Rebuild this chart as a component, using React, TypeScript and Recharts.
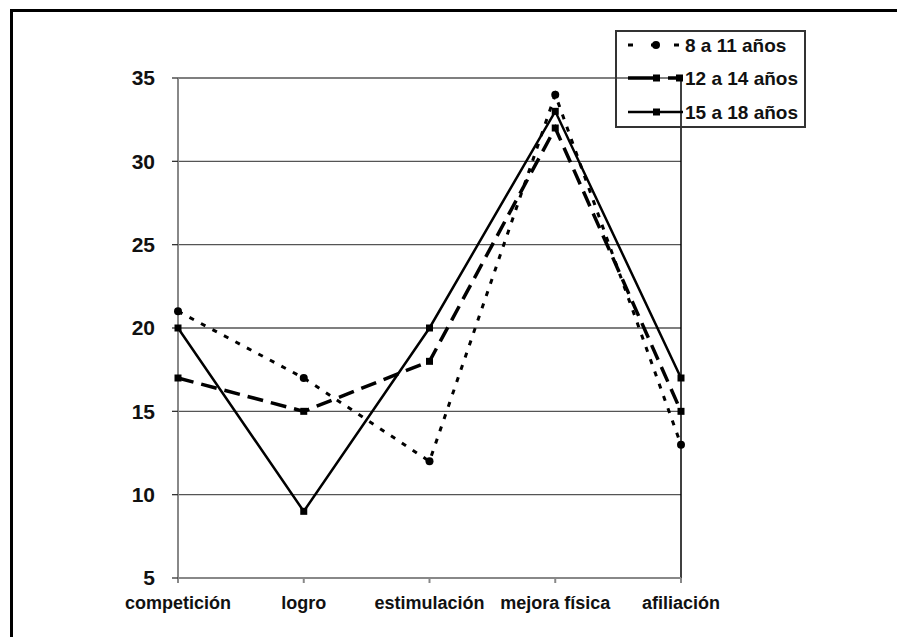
import React from 'react';
import { LineChart, Line, XAxis, YAxis, CartesianGrid, ReferenceLine } from 'recharts';

const categories = ['competición', 'logro', 'estimulación', 'mejora física', 'afiliación'];
const serie8a11 = [21, 17, 12, 34, 13];
const serie12a14 = [17, 15, 18, 32, 15];
const serie15a18 = [20, 9, 20, 33, 17];
const yTicks = [5, 10, 15, 20, 25, 30, 35];
const seriesNames = ['8 a 11 años', '12 a 14 años', '15 a 18 años'];

const data = categories.map((c, i) => ({
  cat: c,
  s1: serie8a11[i],
  s2: serie12a14[i],
  s3: serie15a18[i],
}));

const FONT = '"Liberation Sans", Arial, sans-serif';

const Square = (props: any) => {
  const { cx, cy, index } = props;
  if (cx == null || cy == null) return <g key={index} />;
  return <rect key={index} x={cx - 3.5} y={cy - 3.5} width={7} height={7} fill="#000" />;
};

const Circle = (props: any) => {
  const { cx, cy, index } = props;
  if (cx == null || cy == null) return <g key={index} />;
  return <circle key={index} cx={cx} cy={cy} r={4} fill="#000" />;
};

const LegendBox = () => {
  const rowY = [15, 48, 82];
  return (
    <svg width={191} height={98} style={{ display: 'block', position: 'absolute', left: 615, top: 30 }}>
      <rect x={1} y={1} width={189} height={96} fill="none" stroke="#333" strokeWidth={2} />
      <line x1={13} y1={rowY[0]} x2={68} y2={rowY[0]} stroke="#000" strokeWidth={3} strokeDasharray="5 18" />
      <circle cx={41} cy={rowY[0]} r={4} fill="#000" />
      <line x1={13} y1={rowY[1]} x2={68} y2={rowY[1]} stroke="#000" strokeWidth={3.5} strokeDasharray="32 8" />
      <rect x={38} y={rowY[1] - 3.5} width={7} height={7} fill="#000" />
      <rect x={61} y={rowY[1] - 3.5} width={7} height={7} fill="#000" />
      <line x1={13} y1={rowY[2]} x2={68} y2={rowY[2]} stroke="#000" strokeWidth={2.5} />
      <rect x={38} y={rowY[2] - 3.5} width={7} height={7} fill="#000" />
      {seriesNames.map((n, i) => (
        <text key={n} x={70} y={rowY[i]} dy="0.35em" fontFamily={FONT} fontWeight="bold" fontSize={19} fill="#111">
          {n}
        </text>
      ))}
    </svg>
  );
};

export default function App() {
  return (
    <div style={{ position: 'absolute', left: 0, top: 0, width: 897, height: 637, background: '#fff' }}>
      <div style={{ position: 'absolute', left: 10, top: 9, width: 887, height: 628, borderTop: '3px solid #000', borderLeft: '3px solid #000' }} />
      <div style={{ position: 'absolute', left: 0, top: 0 }}>
        <LineChart
          width={897}
          height={637}
          data={data}
          margin={{ top: 78, right: 216, left: 118, bottom: 29 }}
        >
          <CartesianGrid vertical={false} stroke="#555" strokeWidth={1.3} />
          <XAxis
            dataKey="cat"
            height={30}
            interval={0}
            axisLine={{ stroke: '#888', strokeWidth: 2 }}
            tickLine={{ stroke: '#888', strokeWidth: 2 }}
            tickSize={5}
            tickMargin={13}
            tick={{ fontFamily: FONT, fontWeight: 'bold', fontSize: 18, fill: '#111' }}
          />
          <YAxis
            width={60}
            domain={[5, 35]}
            ticks={yTicks}
            interval={0}
            axisLine={{ stroke: '#888', strokeWidth: 2 }}
            tickLine={{ stroke: '#333', strokeWidth: 1.3 }}
            tickSize={6}
            tickMargin={17}
            tick={{ fontFamily: FONT, fontWeight: 'bold', fontSize: 21, fill: '#111' }}
          />
          <ReferenceLine x="afiliación" stroke="#000" strokeWidth={1.5} />
          <Line
            name={seriesNames[0]}
            dataKey="s1"
            stroke="#000"
            strokeWidth={3}
            strokeDasharray="5 8"
            dot={Circle}
            activeDot={false}
            isAnimationActive={false}
          />
          <Line
            name={seriesNames[1]}
            dataKey="s2"
            stroke="#000"
            strokeWidth={3.5}
            strokeDasharray="16 8"
            dot={Square}
            activeDot={false}
            isAnimationActive={false}
          />
          <Line
            name={seriesNames[2]}
            dataKey="s3"
            stroke="#000"
            strokeWidth={2.5}
            dot={Square}
            activeDot={false}
            isAnimationActive={false}
          />
        </LineChart>
      </div>
      <LegendBox />
    </div>
  );
}
